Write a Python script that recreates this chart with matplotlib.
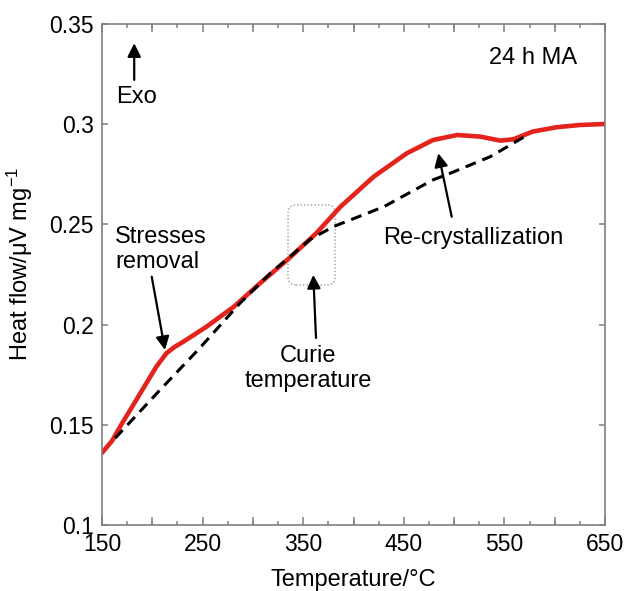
import matplotlib

matplotlib.use("Agg")

import matplotlib.pyplot as plt  # noqa: E402
from matplotlib.patches import FancyBboxPatch  # noqa: E402

plt.rcParams["font.family"] = ["Liberation Sans", "DejaVu Sans"]
plt.rcParams["mathtext.fontset"] = "custom"
plt.rcParams["mathtext.rm"] = "Liberation Sans"
plt.rcParams["mathtext.it"] = "Liberation Sans:italic"
plt.rcParams["mathtext.bf"] = "Liberation Sans:bold"

# DSC trace of the 24 h milled alloy
temp_c = [150, 160, 168, 188, 204, 214, 222, 231, 254, 281, 307, 334,
          363, 387, 420, 453, 479, 503, 526, 546, 559, 578, 602, 625, 650]
heat_flow = [0.136, 0.142, 0.1491, 0.1657, 0.179, 0.1857, 0.1888, 0.1915,
             0.1990, 0.2089, 0.2206, 0.2322, 0.2456, 0.2588, 0.2738, 0.2855,
             0.2921, 0.2946, 0.2938, 0.2918, 0.2925, 0.2963, 0.2985, 0.2996,
             0.3001]

# dashed baseline
base_t = [163, 206, 247, 287, 317, 357, 380, 430, 479, 496, 536, 570]
base_hf = [0.1433, 0.1665, 0.1882, 0.2106, 0.2255, 0.2425, 0.2489, 0.2588,
           0.2722, 0.2755, 0.2838, 0.2938]

x_ticks = [150, 250, 350, 450, 550, 650]
y_ticks = [0.1, 0.15, 0.2, 0.25, 0.3, 0.35]
y_tick_labels = ["0.1", "0.15", "0.2", "0.25", "0.3", "0.35"]

GRAY = "#7f7f7f"
FS = 17

fig = plt.figure(figsize=(6.24, 5.91), dpi=100)
ax = fig.add_axes([0.1635, 0.1117, 0.8061, 0.8477])

ax.plot(temp_c, heat_flow, color="#e3231c", lw=3.3, solid_joinstyle="round",
        solid_capstyle="round", zorder=2)
ax.plot(base_t, base_hf, color="black", lw=2.2, dashes=(3.6, 2.3), zorder=3)

ax.set_xlim(150, 650)
ax.set_ylim(0.1, 0.35)
ax.set_xticks(x_ticks)
ax.set_xticks(range(150, 651, 25), minor=True)
ax.set_yticks(y_ticks)
ax.set_yticklabels(y_tick_labels)

for s in ax.spines.values():
    s.set_color(GRAY)
    s.set_linewidth(1.2)
ax.tick_params(axis="both", which="both", direction="in", color=GRAY,
               top=True, right=True, labelsize=FS - 0.5)
ax.tick_params(axis="x", which="major", length=6, width=1.1, pad=6)
ax.tick_params(axis="x", which="minor", length=3, width=1.1)
ax.tick_params(axis="y", which="major", length=4, width=1.1, pad=6)

# unlabelled ticks every 50 between the labelled ones, and every 25 below
sec = ax.secondary_xaxis("bottom")
sec.set_xticks([200, 300, 400, 500, 600])
sec.set_xticklabels([])
sec.tick_params(direction="in", length=6, width=1.1, color=GRAY)
sec.spines["bottom"].set_visible(False)
top = ax.secondary_xaxis("top")
top.set_xticks([200, 300, 400, 500, 600])
top.set_xticklabels([])
top.tick_params(direction="in", length=6, width=1.1, color=GRAY)
top.spines["top"].set_visible(False)

ax.set_xlabel("Temperature/°C", fontsize=FS)
ax.xaxis.set_label_coords(0.5, -0.088)
ax.set_ylabel("Heat flow/μV mg$^{-1}$", fontsize=FS)
ax.yaxis.set_label_coords(-0.133, 0.52)

# dotted box round the Curie point
box = FancyBboxPatch((334.9, 0.2198), 46.7, 0.0399,
                     boxstyle="round,pad=0,rounding_size=8",
                     mutation_aspect=0.000502, fill=False, ec="#9a9a9a",
                     lw=1.0, ls=(0, (1, 1.5)), zorder=1)
ax.add_patch(box)

arrow = dict(arrowstyle="-|>", mutation_scale=20, lw=1.6, color="black",
             shrinkA=0, shrinkB=0)

ax.annotate("", xy=(182, 0.3404), xytext=(182, 0.3221), arrowprops=arrow)
ax.text(184.5, 0.3136, "Exo", ha="center", va="center", fontsize=FS)
ax.text(621.8, 0.333, "24 h MA", ha="right", va="center", fontsize=FS)

ax.text(162.9, 0.2375, "Stresses\nremoval", ha="left", va="center",
        fontsize=FS, linespacing=1.15)
ax.annotate("", xy=(212.6, 0.1873), xytext=(199.4, 0.2239), arrowprops=arrow)

ax.text(355, 0.1781, "Curie\ntemperature", ha="center", va="center",
        fontsize=FS, linespacing=1.15)
ax.annotate("", xy=(360, 0.2248), xytext=(362.7, 0.1933), arrowprops=arrow)

ax.text(429.6, 0.2431, "Re-crystallization", ha="left", va="center",
        fontsize=FS)
ax.annotate("", xy=(484.3, 0.2855), xytext=(497.6, 0.2538), arrowprops=arrow)

fig.savefig("out.png", dpi=100)
